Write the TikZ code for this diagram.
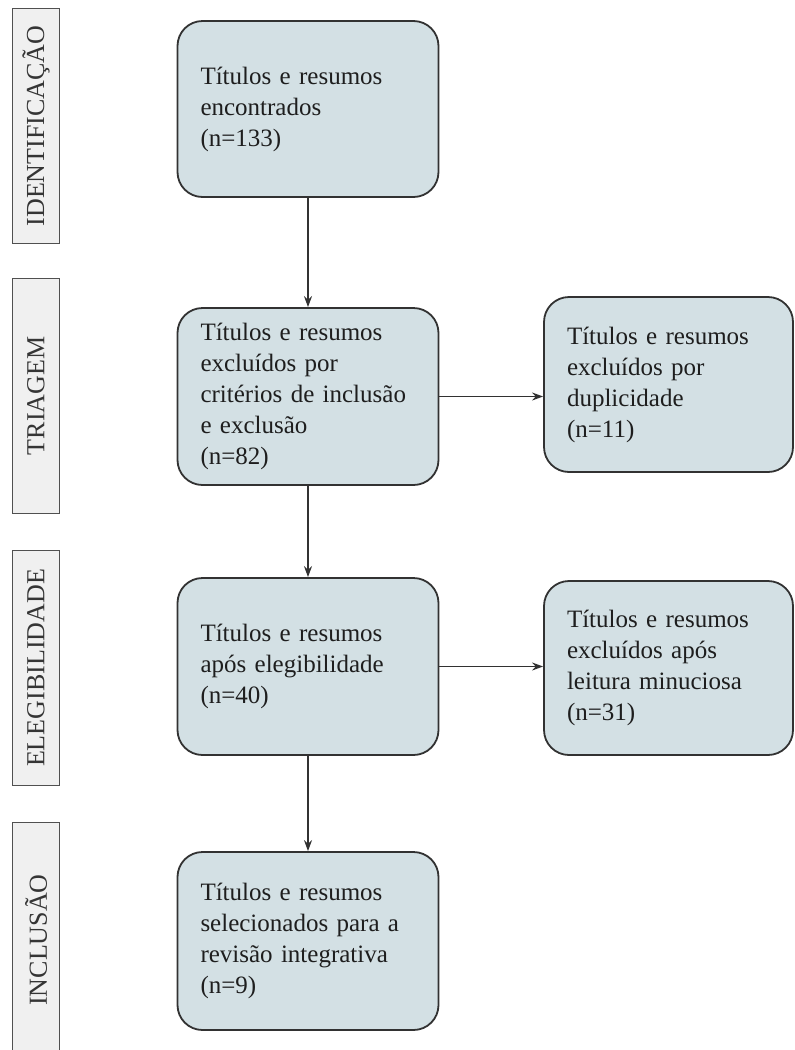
\documentclass[tikz,border=0pt]{standalone}
\usepackage{fontspec}
\setmainfont{Liberation Serif}
\usetikzlibrary{arrows.meta}

\definecolor{boxfill}{RGB}{211,224,228}
\definecolor{boxline}{RGB}{50,50,50}
\definecolor{phasefill}{RGB}{240,240,240}
\definecolor{phaseline}{RGB}{80,80,80}
\definecolor{inktext}{RGB}{30,30,30}

\tikzset{
  stagebox/.style={draw=boxline, fill=boxfill, line width=1.8pt,
    rounded corners=25pt, rectangle, inner xsep=23pt, inner ysep=0pt,
    align=left, text=inktext,
    font=\fontsize{25}{31}\selectfont},
  phasebox/.style={draw=phaseline, fill=phasefill, line width=1.6pt,
    rectangle, rotate=90, minimum width=235pt, minimum height=47pt,
    inner sep=0pt, text=inktext!90!white,
    font=\fontsize{26}{30}\selectfont},
  flow/.style={draw=boxline, line width=1.6pt,
    -{Stealth[length=11pt,width=8pt]}}
}

\begin{document}
\begin{tikzpicture}[x=1pt, y=-1pt]
  \useasboundingbox (0,0) rectangle (795,1050);
  \clip (0,0) rectangle (795,1050);

  % phase labels on the left
  \node[phasebox] (pI) at (36,126) {IDENTIFICAÇÃO};
  \node[phasebox] (pT) at (36,396) {TRIAGEM};
  \node[phasebox] (pE) at (36,668) {ELEGIBILIDADE};
  \node[phasebox] (pC) at (36,940) {INCLUSÃO};

  % main column
  \node[stagebox, text width=215pt, minimum height=176pt] (b1) at (308,109)
    {Títulos e resumos\\encontrados\\(n=133)};
  \node[stagebox, text width=215pt, minimum height=177pt] (b2) at (308,396.5)
    {Títulos e resumos\\excluídos por\\critérios de inclusão\\e exclusão\\(n=82)};
  \node[stagebox, text width=215pt, minimum height=177pt] (b3) at (308,666.5)
    {Títulos e resumos\\após elegibilidade\\(n=40)};
  \node[stagebox, text width=215pt, minimum height=178pt] (b4) at (308,941)
    {Títulos e resumos\\selecionados para a\\revisão integrativa\\(n=9)};

  % exclusion column
  \node[stagebox, text width=203pt, minimum height=175pt] (r1) at (668.5,384.5)
    {Títulos e resumos\\excluídos por\\duplicidade\\(n=11)};
  \node[stagebox, text width=203pt, minimum height=174pt] (r2) at (668.5,668)
    {Títulos e resumos\\excluídos após\\leitura minuciosa\\(n=31)};

  % connectors
  \draw[flow] (b1.south) -- (b2.north);
  \draw[flow] (b2.south) -- (b3.north);
  \draw[flow] (b3.south) -- (b4.north);
  \draw[flow] (b2.east) -- (b2.east -| r1.west);
  \draw[flow] (b3.east) -- (b3.east -| r2.west);
\end{tikzpicture}
\end{document}
